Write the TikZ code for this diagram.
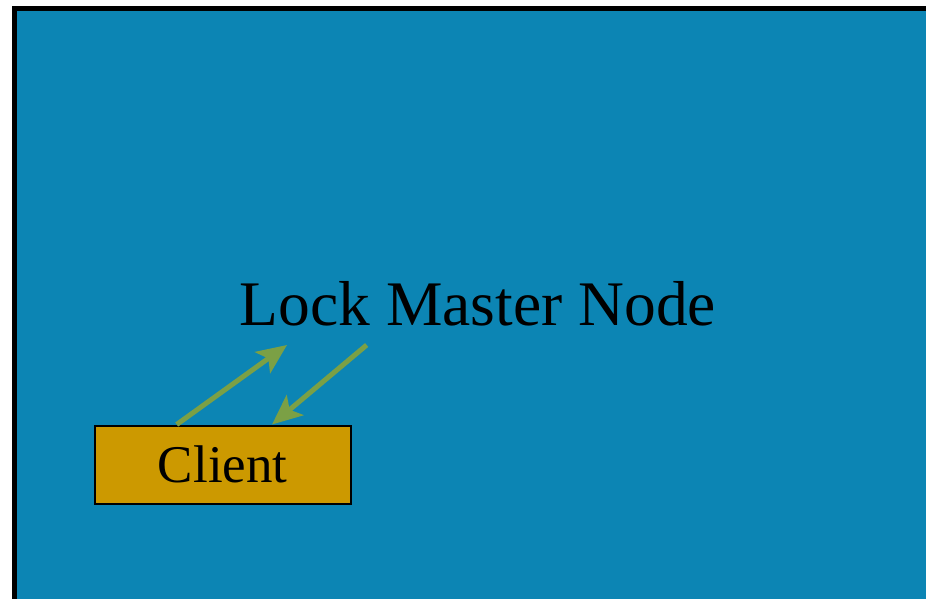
\documentclass[tikz,border=0pt]{standalone}
\usepackage{fontspec}
\setmainfont{Liberation Serif}
\usetikzlibrary{arrows.meta}
\definecolor{bgblue}{RGB}{12,133,180}
\definecolor{gold}{RGB}{204,153,0}
\definecolor{arrgreen}{RGB}{123,160,69}
\tikzset{
  clientbox/.style={draw=black, line width=2pt, fill=gold, minimum width=255.5pt, minimum height=78.5pt, inner sep=0pt, font=\fontsize{53}{60}\selectfont},
  title/.style={inner sep=0pt, anchor=base, font=\fontsize{63.5}{70}\selectfont},
  msg/.style={draw=arrgreen, line width=5pt, -{Stealth[length=30pt, width=26pt, inset=7pt]}}
}
\begin{document}
\begin{tikzpicture}[x=1pt, y=-1pt]
\useasboundingbox (0,0) rectangle (926,598);
\clip (0,0) rectangle (926,598);
\draw[line width=5pt, fill=bgblue] (14.5,8.5) rectangle (950,620);
\node[title] (master) at (478,325) {Lock Master Node};
\node[clientbox] (client) at (222.75,464.75) {Client};
\coordinate (c1) at (176.7,424.5);
\coordinate (m1) at (287,345);
\coordinate (m2) at (366.7,345);
\coordinate (c2) at (272,424.5);
\draw[msg, shorten >=0pt] (c1) -- (m1);
\draw[msg] (m2) -- (c2);
\end{tikzpicture}
\end{document}
